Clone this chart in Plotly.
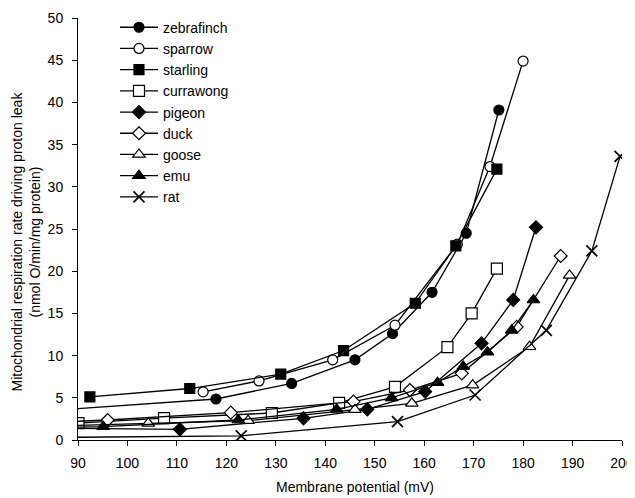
import plotly.graph_objects as go

# Membrane potential (mV) and respiration rate (nmol O/min/mg protein)
zebrafinch_x = [85, 117.9, 133.2, 146.0, 153.6, 161.6, 168.5, 175.1]
zebrafinch_y = [3.5, 4.86, 6.7, 9.5, 12.6, 17.5, 24.5, 39.1]

sparrow_x = [115.3, 126.6, 141.5, 154.1, 166.7, 173.3, 180.0]
sparrow_y = [5.7, 7.0, 9.5, 13.6, 23.2, 32.4, 44.9]

starling_x = [92.4, 112.6, 131.0, 143.7, 158.2, 166.4, 174.7]
starling_y = [5.1, 6.1, 7.8, 10.6, 16.2, 23.0, 32.1]

currawong_x = [90.1, 107.4, 129.2, 142.8, 154.1, 164.7, 169.6, 174.7]
currawong_y = [2.0, 2.6, 3.2, 4.4, 6.3, 11.0, 15.0, 20.3]

pigeon_x = [85, 110.6, 135.6, 148.5, 160.2, 171.6, 178.0, 182.6]
pigeon_y = [1.4, 1.27, 2.57, 3.63, 5.73, 11.45, 16.6, 25.2]

duck_x = [85, 96.0, 120.9, 145.7, 157.1, 167.6, 178.7, 187.6]
duck_y = [2.1, 2.37, 3.24, 4.54, 5.92, 7.9, 13.4, 21.8]

goose_x = [85, 104.2, 124.4, 146.0, 157.5, 169.8, 181.3, 189.4]
goose_y = [1.65, 1.98, 2.29, 3.6, 4.35, 6.5, 11.05, 19.5]

emu_x = [85, 95.1, 122.4, 142.3, 153.4, 162.7, 167.9, 172.8, 177.7, 182.1]
emu_y = [1.45, 1.58, 2.37, 3.63, 5.0, 6.8, 8.7, 10.4, 13.0, 16.6]

rat_x = [85, 123.0, 154.6, 170.3, 184.7, 193.9, 199.6]
rat_y = [0.3, 0.5, 2.17, 5.33, 13.0, 22.4, 33.6]

x_ticks = [90, 100, 110, 120, 130, 140, 150, 160, 170, 180, 190, 200]
y_ticks = [0, 5, 10, 15, 20, 25, 30, 35, 40, 45, 50]

x_title = "Membrane potential (mV)"
y_title = "Mitochondrial respiration rate driving proton leak<br>(nmol O/min/mg protein)"

series = [
    ("zebrafinch", zebrafinch_x, zebrafinch_y, "circle", "black", 10),
    ("sparrow", sparrow_x, sparrow_y, "circle", "white", 10),
    ("starling", starling_x, starling_y, "square", "black", 10),
    ("currawong", currawong_x, currawong_y, "square", "white", 11),
    ("pigeon", pigeon_x, pigeon_y, "diamond", "black", 10),
    ("duck", duck_x, duck_y, "diamond", "white", 10),
    ("goose", goose_x, goose_y, "triangle-up", "white", 11),
    ("emu", emu_x, emu_y, "triangle-up", "black", 11),
    ("rat", rat_x, rat_y, "x-thin", "black", 11),
]

fig = go.Figure()
for name, xs, ys, sym, fill, size in series:
    if sym == "x-thin":
        marker = dict(symbol=sym, size=size, color="black",
                      line=dict(color="black", width=1.7))
    else:
        marker = dict(symbol=sym, size=size, color=fill,
                      line=dict(color="black", width=1.2))
    fig.add_trace(go.Scatter(
        x=xs, y=ys, name=name, mode="lines+markers",
        line=dict(color="black", width=1.3),
        marker=marker,
    ))

font = "Liberation Sans, Arial, Helvetica, sans-serif"
fig.update_layout(
    width=627, height=490,
    margin=dict(l=70, r=13, t=10, b=58, autoexpand=False),
    paper_bgcolor="white", plot_bgcolor="white",
    font=dict(family=font, size=14, color="black"),
    showlegend=True,
    legend=dict(x=0.068, y=1.015, xanchor="left", yanchor="top",
                bgcolor="rgba(0,0,0,0)", font=dict(size=14),
                tracegroupgap=0, itemwidth=38),
    xaxis=dict(range=[90, 200], tickvals=x_ticks, showline=True,
               linecolor="black", linewidth=1, ticks="outside",
               ticklen=5, tickcolor="black", showgrid=False, zeroline=False,
               automargin=False, tickfont=dict(size=14),
               ticklabelstandoff=5),
    yaxis=dict(range=[0, 50], tickvals=y_ticks, showline=True,
               linecolor="black", linewidth=1, ticks="outside",
               ticklen=5, tickcolor="black", showgrid=False, zeroline=False,
               automargin=False, tickfont=dict(size=14),
               ticklabelstandoff=6),
    annotations=[
        dict(text=x_title, xref="paper", yref="paper", x=0.51, y=-0.111,
             xanchor="center", yanchor="middle", showarrow=False,
             font=dict(size=14)),
        dict(text=y_title, xref="paper", yref="paper", x=-0.096, y=0.47,
             xanchor="center", yanchor="middle", showarrow=False,
             textangle=-90, font=dict(size=14)),
    ],
)

fig.write_html("out.html")
